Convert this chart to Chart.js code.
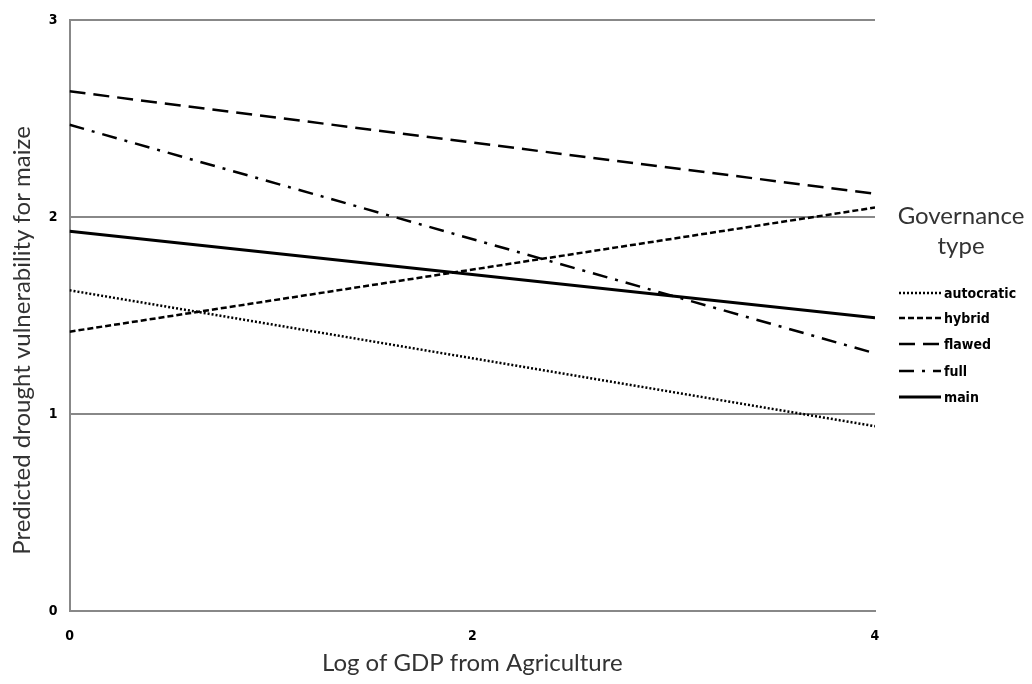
<!DOCTYPE html>
<html>
<head>
<meta charset="utf-8">
<script src="https://cdn.jsdelivr.net/npm/chart.js@4"></script>
<style>
html,body{margin:0;padding:0;background:#fff;}
#wrap{width:1032px;height:684px;position:relative;}
</style>
</head>
<body>
<div id="wrap"><canvas id="c" width="1032" height="684"></canvas></div>
<script>
const xValues = [0, 4];
const autocratic = [1.63, 0.94];
const hybrid = [1.42, 2.05];
const flawed = [2.64, 2.12];
const full = [2.47, 1.31];
const main = [1.93, 1.49];
const seriesNames = ['autocratic', 'hybrid', 'flawed', 'full', 'main'];
const yTicks = [0, 1, 2, 3];
const xTicks = [0, 2, 4];
const legendTitle = ['Governance', 'type'];
const xTitle = 'Log of GDP from Agriculture';
const yTitle = 'Predicted drought vulnerability for maize';

const seriesValues = [autocratic, hybrid, flawed, full, main];
const dashes = [[2, 2], [6, 3], [16, 8], [15, 8, 3, 8], []];
const widths = [2.5, 2.5, 2.5, 2.5, 3];
const tickFont = {family: '"DejaVu Sans Condensed", "Liberation Sans", sans-serif', size: 14, weight: 'bold'};

const datasets = seriesNames.map((n, i) => ({
  label: n,
  data: xValues.map((x, j) => ({x: x, y: seriesValues[i][j]})),
  borderColor: '#000',
  borderWidth: widths[i],
  borderDash: dashes[i],
  pointRadius: 0,
  showLine: true,
  fill: false
}));

const legendPlugin = {
  id: 'customLegend',
  afterDraw(chart) {
    const ctx = chart.ctx;
    ctx.save();
    ctx.fillStyle = '#333';
    ctx.font = '24px Lato';
    ctx.textAlign = 'center';
    ctx.textBaseline = 'middle';
    ctx.fillText(legendTitle[0], 961, 216);
    ctx.fillText(legendTitle[1], 961, 246);
    const ys = [293, 318, 344, 371, 397];
    ctx.font = 'bold 14px "DejaVu Sans Condensed", "Liberation Sans", sans-serif';
    ctx.textAlign = 'left';
    chart.data.datasets.forEach((ds, i) => {
      ctx.strokeStyle = '#000';
      ctx.lineWidth = ds.borderWidth;
      ctx.setLineDash(ds.borderDash);
      ctx.beginPath();
      ctx.moveTo(899, ys[i]);
      ctx.lineTo(941, ys[i]);
      ctx.stroke();
      ctx.setLineDash([]);
      ctx.fillStyle = '#000';
      ctx.fillText(ds.label, 944, ys[i] + 1);
    });
    ctx.restore();
  }
};

new Chart(document.getElementById('c'), {
  type: 'scatter',
  data: {datasets: datasets},
  options: {
    responsive: false,
    animation: false,
    layout: {padding: {left: 8, right: 157, top: 6, bottom: 6}},
    plugins: {legend: {display: false}, tooltip: {enabled: false}},
    scales: {
      x: {
        type: 'linear', min: 0, max: 4,
        afterBuildTicks: (axis) => { axis.ticks = xTicks.map(v => ({value: v})); },
        grid: {display: false, drawTicks: false},
        border: {color: '#888', width: 2},
        ticks: {color: '#000', font: tickFont, padding: 17, maxRotation: 0},
        title: {display: true, text: xTitle, color: '#333', font: {family: 'Lato', size: 24}, padding: {top: -13, bottom: 0}}
      },
      y: {
        type: 'linear', min: 0, max: 3,
        afterBuildTicks: (axis) => { axis.ticks = yTicks.map(v => ({value: v})); },
        grid: {color: '#888', lineWidth: 2, drawTicks: false},
        border: {color: '#888', width: 2},
        ticks: {color: '#000', font: tickFont, padding: 12},
        title: {display: true, text: yTitle + '        ', color: '#333', font: {family: 'Lato', size: 24}, padding: {top: 0, bottom: 0}}
      }
    }
  },
  plugins: [legendPlugin]
});
</script>
</body>
</html>
